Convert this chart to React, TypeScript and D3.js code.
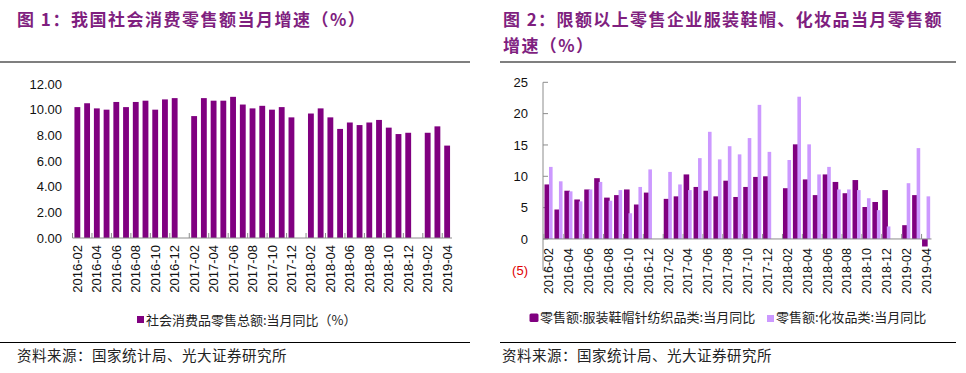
import React from "react";
import * as d3 from "d3";

// 月份（1月无数据，留空位）
const months = [
  "2016-02", "2016-03", "2016-04", "2016-05", "2016-06", "2016-07", "2016-08", "2016-09", "2016-10", "2016-11", "2016-12",
  "2017-01", "2017-02", "2017-03", "2017-04", "2017-05", "2017-06", "2017-07", "2017-08", "2017-09", "2017-10", "2017-11", "2017-12",
  "2018-01", "2018-02", "2018-03", "2018-04", "2018-05", "2018-06", "2018-07", "2018-08", "2018-09", "2018-10", "2018-11", "2018-12",
  "2019-01", "2019-02", "2019-03", "2019-04",
];

const retailTotal = [
  10.2, 10.5, 10.1, 10.0, 10.6, 10.2, 10.6, 10.7, 10.0, 10.8, 10.9,
  null, 9.5, 10.9, 10.7, 10.7, 11.0, 10.4, 10.1, 10.3, 10.0, 10.2, 9.4,
  null, 9.7, 10.1, 9.4, 8.5, 9.0, 8.8, 9.0, 9.2, 8.6, 8.1, 8.2,
  null, 8.2, 8.7, 7.2,
];

const apparel = [
  8.7, 4.7, 7.7, 6.3, 7.9, 9.7, 6.6, 7.0, 7.9, 5.5, 7.4,
  null, 6.4, 6.8, 10.3, 8.3, 7.7, 6.8, 9.3, 6.7, 8.3, 9.9, 10.0,
  null, 8.1, 15.1, 9.5, 7.0, 10.3, 9.1, 7.3, 9.4, 5.1, 5.9, 7.8,
  null, 2.2, 7.0, -1.2,
];

const cosmetics = [
  11.5, 9.2, 7.6, 6.0, 7.9, 9.1, 6.1, 7.8, 4.1, 8.3, 11.1,
  null, 10.7, 8.7, 7.8, 12.9, 17.1, 12.7, 14.8, 13.5, 16.1, 21.4, 13.9,
  null, 12.6, 22.7, 15.1, 10.3, 11.5, 7.9, 7.9, 7.8, 6.5, 4.6, 2.0,
  null, 8.9, 14.5, 6.8,
];

const leftTicks = [0, 2, 4, 6, 8, 10, 12];
const rightTicks = [-5, 0, 5, 10, 15, 20, 25];

const title1 = "图 1：我国社会消费零售额当月增速（%）";
const title2a = "图 2：限额以上零售企业服装鞋帽、化妆品当月零售额";
const title2b = "增速（%）";
const legend1 = "社会消费品零售总额:当月同比（%）";
const legend2a = "零售额:服装鞋帽针纺织品类:当月同比";
const legend2b = "零售额:化妆品类:当月同比";
const source = "资料来源：国家统计局、光大证券研究所";

const PURPLE = "#800080";
const LILAC = "#CC99FF";
const TITLE = "#7F1F7F";
const AXIS = "#8c8c8c";
const CJK = "'Noto Sans CJK SC', 'Liberation Sans', sans-serif";
const NUM = "'Liberation Sans', Arial, sans-serif";

function LeftChart() {
  const x = d3.scaleBand<string>().domain(months).range([72.5, 452]).paddingInner(0.4).paddingOuter(0.2);
  const y = d3.scaleLinear().domain([0, 12]).range([238, 84]);
  const step = x.step();
  return (
    <g>
      <text x={17} y={26} fill={TITLE} fontSize={17} fontWeight="bold" letterSpacing={1.5} fontFamily={CJK}>{title1}</text>
      <line x1={0} x2={470} y1={62} y2={62} stroke="#000" strokeWidth={1.2} />
      {leftTicks.map((t) => (
        <text key={t} x={62} y={y(t)} dy="0.35em" textAnchor="end" fontSize={13} fontFamily={NUM} fill="#111">
          {t.toFixed(2)}
        </text>
      ))}
      {months.map((m, i) =>
        retailTotal[i] == null ? null : (
          <rect key={m} x={x(m)} y={y(retailTotal[i] as number)} width={x.bandwidth()} height={y(0) - y(retailTotal[i] as number)} fill={PURPLE} />
        )
      )}
      <line x1={72.5} x2={452} y1={y(0)} y2={y(0)} stroke={AXIS} />
      {months.map((m, i) =>
        i % 2 === 0 ? (
          <line key={"t" + m} x1={(x(m) as number) - step * 0.2} x2={(x(m) as number) - step * 0.2} y1={y(0)} y2={y(0) - 5} stroke={AXIS} />
        ) : null
      )}
      {months.map((m, i) => {
        if (i % 2 !== 0) return null;
        const cx = (x(m) as number) + x.bandwidth() / 2;
        return (
          <text key={"l" + m} transform={`translate(${cx},245) rotate(-90)`} textAnchor="end" dy="0.35em" fontSize={13} fontFamily={NUM} fill="#111">
            {m}
          </text>
        );
      })}
      <rect x={137} y={316} width={7} height={7} fill={PURPLE} />
      <text x={146} y={324.5} fontSize={13} fontFamily={CJK} fill="#222">{legend1}</text>
      <line x1={0} x2={470} y1={342.5} y2={342.5} stroke="#000" strokeWidth={1.2} />
      <text x={17} y={361} fontSize={14.5} letterSpacing={0.5} fontFamily={CJK} fill="#222">{source}</text>
    </g>
  );
}

function RightChart() {
  const x = d3.scaleBand<string>().domain(months).range([544, 931.5]);
  const y = d3.scaleLinear().domain([-5, 25]).range([270.3, 82.3]);
  const step = x.step();
  return (
    <g>
      <text x={503} y={26} fill={TITLE} fontSize={17} fontWeight="bold" letterSpacing={1.4} fontFamily={CJK}>{title2a}</text>
      <text x={503} y={52} fill={TITLE} fontSize={17} fontWeight="bold" letterSpacing={1.4} fontFamily={CJK}>{title2b}</text>
      <line x1={500} x2={956} y1={62} y2={62} stroke="#000" strokeWidth={1.2} />
      {rightTicks.map((t) => (
        <text key={t} x={528} y={y(t)} dy="0.35em" textAnchor="end" fontSize={13} fontFamily={NUM} fill={t < 0 ? "#E00000" : "#111"}>
          {t < 0 ? `(${Math.abs(t)})` : t}
        </text>
      ))}
      <line x1={543} x2={543} y1={y(25)} y2={y(-5)} stroke={AXIS} />
      {rightTicks.map((t) => (
        <line key={"yt" + t} x1={543} x2={548} y1={y(t)} y2={y(t)} stroke={AXIS} />
      ))}
      {months.map((m, i) => {
        const v = apparel[i];
        if (v == null) return null;
        const x0 = x(m) as number;
        return <rect key={"a" + m} x={x0 + 0.5} y={y(Math.max(0, v))} width={5.6} height={Math.abs(y(v) - y(0))} fill={PURPLE} />;
      })}
      {months.map((m, i) => {
        const v = cosmetics[i];
        if (v == null) return null;
        const x0 = x(m) as number;
        return <rect key={"c" + m} x={x0 + 5} y={y(Math.max(0, v))} width={3.6} height={Math.abs(y(v) - y(0))} fill={LILAC} />;
      })}
      <line x1={543} x2={931.5} y1={y(0)} y2={y(0)} stroke={AXIS} />
      {months.map((m, i) =>
        i % 2 === 0 ? (
          <line key={"t" + m} x1={x(m) as number} x2={x(m) as number} y1={y(0)} y2={y(0) - 5} stroke={AXIS} />
        ) : null
      )}
      {months.map((m, i) => {
        if (i % 2 !== 0) return null;
        const cx = (x(m) as number) + step / 2;
        return (
          <text key={"l" + m} transform={`translate(${cx},248) rotate(-90)`} textAnchor="end" dy="0.35em" fontSize={12.5} fontFamily={NUM} fill="#111">
            {m}
          </text>
        );
      })}
      <rect x={529.5} y={313.5} width={9} height={8.5} rx={1.5} fill={PURPLE} />
      <text x={540} y={322} fontSize={13} fontFamily={CJK} fill="#222">{legend2a}</text>
      <rect x={767} y={315} width={7} height={7} fill={LILAC} />
      <text x={776} y={322} fontSize={13} fontFamily={CJK} fill="#222">{legend2b}</text>
      <line x1={500} x2={956} y1={342.5} y2={342.5} stroke="#000" strokeWidth={1.2} />
      <text x={502} y={361} fontSize={14.5} letterSpacing={0.5} fontFamily={CJK} fill="#222">{source}</text>
    </g>
  );
}

export default function App() {
  return (
    <svg width={966} height={373} style={{ position: "absolute", left: 0, top: 0, background: "#fff" }}>
      <LeftChart />
      <RightChart />
    </svg>
  );
}
